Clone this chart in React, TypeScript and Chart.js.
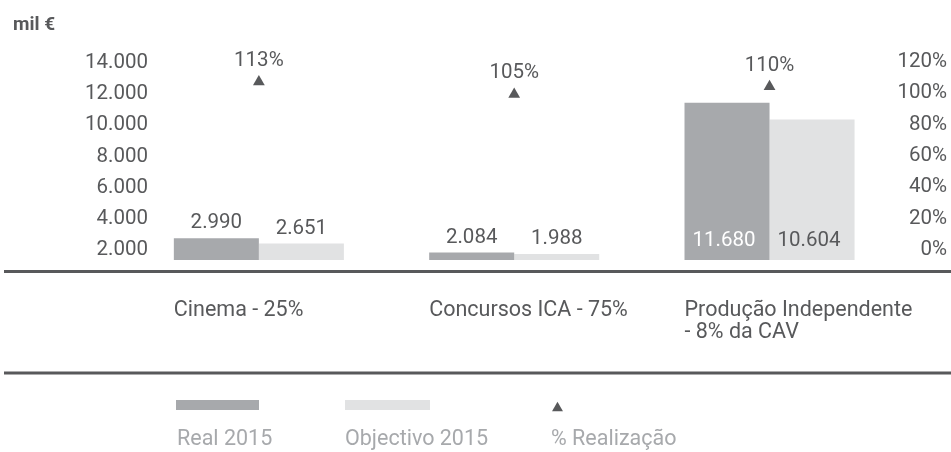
import React, { useEffect, useRef } from 'react';
import { Chart, registerables } from 'chart.js';

Chart.register(...registerables);

// ---- data ----
const categories: string[][] = [
  ['Cinema - 25%'],
  ['Concursos ICA - 75%'],
  ['Produção Independente', '- 8% da CAV'],
];
const real2015 = [2990, 2084, 11680];
const objectivo2015 = [2651, 1988, 10604];
const realizacao = [113, 105, 110];
const leftTicks = [2000, 4000, 6000, 8000, 10000, 12000, 14000];
const rightTicks = [0, 20, 40, 60, 80, 100, 120];
const seriesNames = ['Real 2015', 'Objectivo 2015', '% Realização'];
const unitLabel = 'mil €';

// ---- styles ----
const DARK = '#58595b';
const REAL = '#a7a9ac';
const OBJ = '#e1e2e3';
const LEGEND_TEXT = '#a7a9ac';
const FONT = 'Roboto, "Noto Sans", sans-serif';
const Y_MIN = 1600;
const Y_MAX = 14200;

const fmt = (v: number) => String(v).replace(/\B(?=(\d{3})+(?!\d))/g, '.');

const overlay = {
  id: 'overlay',
  afterDraw(chart: any) {
    const ctx = chart.ctx as CanvasRenderingContext2D;
    const w = chart.width;
    ctx.save();

    // unit label
    ctx.fillStyle = DARK;
    ctx.font = `bold 19px ${FONT}`;
    ctx.textAlign = 'left';
    ctx.textBaseline = 'alphabetic';
    ctx.fillText(unitLabel, 13, 30);

    // left axis tick labels
    const yScale = chart.scales.y;
    ctx.font = `20.5px ${FONT}`;
    ctx.fillStyle = DARK;
    ctx.textAlign = 'right';
    ctx.textBaseline = 'middle';
    leftTicks.forEach((v) => {
      ctx.fillText(fmt(v), 148, yScale.getPixelForValue(v) - 3.7);
    });

    // horizontal rules
    ctx.strokeStyle = DARK;
    ctx.lineWidth = 3;
    ctx.beginPath();
    ctx.moveTo(4, 271.5);
    ctx.lineTo(w, 271.5);
    ctx.moveTo(4, 373);
    ctx.lineTo(w, 373);
    ctx.stroke();

    const realMeta = chart.getDatasetMeta(1);
    const objMeta = chart.getDatasetMeta(2);
    const triMeta = chart.getDatasetMeta(0);

    // category labels, left aligned at group start
    ctx.font = `21.5px ${FONT}`;
    ctx.fillStyle = DARK;
    ctx.textAlign = 'left';
    ctx.textBaseline = 'middle';
    categories.forEach((lines, i) => {
      const rb = realMeta.data[i];
      const left = rb.x - rb.width / 2;
      lines.forEach((ln, j) => {
        ctx.fillText(ln, left, 310.5 + j * 22.5);
      });
    });

    // bar value labels
    ctx.font = `20.5px ${FONT}`;
    ctx.textAlign = 'center';
    [realMeta, objMeta].forEach((meta, di) => {
      const vals = di === 0 ? real2015 : objectivo2015;
      meta.data.forEach((el: any, i: number) => {
        const h = el.base - el.y;
        if (h > 40) {
          ctx.fillStyle = di === 0 ? '#ffffff' : DARK;
          ctx.fillText(fmt(vals[i]), el.x - 3, el.base - 19);
        } else {
          ctx.fillStyle = DARK;
          ctx.fillText(fmt(vals[i]), el.x, el.y - 15);
        }
      });
    });

    // percentage labels above triangles
    ctx.fillStyle = DARK;
    triMeta.data.forEach((el: any, i: number) => {
      ctx.fillText(realizacao[i] + '%', el.x, el.y - 21);
    });

    // legend
    const ly = 405;
    const ty = 439.5;
    ctx.fillStyle = REAL;
    ctx.fillRect(176, ly - 5, 83, 10);
    ctx.fillStyle = OBJ;
    ctx.fillRect(345, ly - 5, 85, 10);
    const tx = 557.5, r = 6.3;
    const cy = 408;
    ctx.fillStyle = DARK;
    ctx.beginPath();
    ctx.moveTo(tx, cy - r);
    ctx.lineTo(tx + r * Math.sin(Math.PI * 2 / 3), cy + r / 2);
    ctx.lineTo(tx - r * Math.sin(Math.PI * 2 / 3), cy + r / 2);
    ctx.closePath();
    ctx.fill();

    ctx.fillStyle = LEGEND_TEXT;
    ctx.font = `21.5px ${FONT}`;
    ctx.textAlign = 'left';
    ctx.textBaseline = 'middle';
    ctx.fillText(seriesNames[0], 177, ty);
    ctx.fillText(seriesNames[1], 345, ty);
    ctx.fillText(seriesNames[2], 551, ty);

    ctx.restore();
  },
};

export default function App() {
  const ref = useRef<HTMLCanvasElement | null>(null);

  useEffect(() => {
    if (!ref.current) return;
    const chart = new Chart(ref.current, {
      type: 'bar',
      data: {
        labels: categories.map((c) => c.join(' ')),
        datasets: [
          {
            type: 'line',
            label: seriesNames[2],
            data: realizacao,
            yAxisID: 'y1',
            showLine: false,
            pointStyle: 'triangle',
            pointRadius: 6.8,
            pointHoverRadius: 6.8,
            pointBackgroundColor: DARK,
            pointBorderColor: DARK,
            pointBorderWidth: 0,
            backgroundColor: DARK,
            borderColor: DARK,
            order: 0,
          } as any,
          {
            label: seriesNames[0],
            data: real2015,
            yAxisID: 'y',
            base: Y_MIN,
            backgroundColor: REAL,
            categoryPercentage: 0.666,
            barPercentage: 1,
            order: 1,
          },
          {
            label: seriesNames[1],
            data: objectivo2015,
            yAxisID: 'y',
            base: Y_MIN,
            backgroundColor: OBJ,
            categoryPercentage: 0.666,
            barPercentage: 1,
            order: 1,
          },
        ],
      },
      options: {
        responsive: false,
        animation: false,
        devicePixelRatio: 1,
        events: [],
        layout: { padding: { top: 63.4, bottom: 192, left: 0, right: 4 } },
        plugins: {
          legend: { display: false },
          tooltip: { enabled: false },
        },
        scales: {
          x: {
            display: false,
            grid: { display: false },
          },
          y: {
            position: 'left',
            min: Y_MIN,
            max: Y_MAX,
            afterBuildTicks: (s: any) => {
              s.ticks = leftTicks.map((v) => ({ value: v }));
            },
            afterFit: (s: any) => {
              s.width = 131.2;
            },
            grid: { display: false, drawTicks: false },
            border: { display: false },
            ticks: { display: false },
          },
          y1: {
            position: 'right',
            min: -0.7,
            max: 124.76,
            afterBuildTicks: (s: any) => {
              s.ticks = rightTicks.map((v) => ({ value: v }));
            },
            afterFit: (s: any) => {
              s.width = 49.8;
            },
            grid: { display: false, drawTicks: false },
            border: { display: false },
            ticks: {
              autoSkip: false,
              crossAlign: 'far',
              labelOffset: -8.9,
              color: DARK,
              font: { family: FONT, size: 20.5 },
              callback: (v: any) => v + '%',
            },
          },
        },
      } as any,
      plugins: [overlay],
    });
    return () => chart.destroy();
  }, []);

  return (
    <div style={{ position: 'absolute', left: 0, top: 0, width: 951, height: 452, background: '#fff' }}>
      <canvas ref={ref} width={951} height={452} style={{ display: 'block', width: 951, height: 452 }} />
    </div>
  );
}
